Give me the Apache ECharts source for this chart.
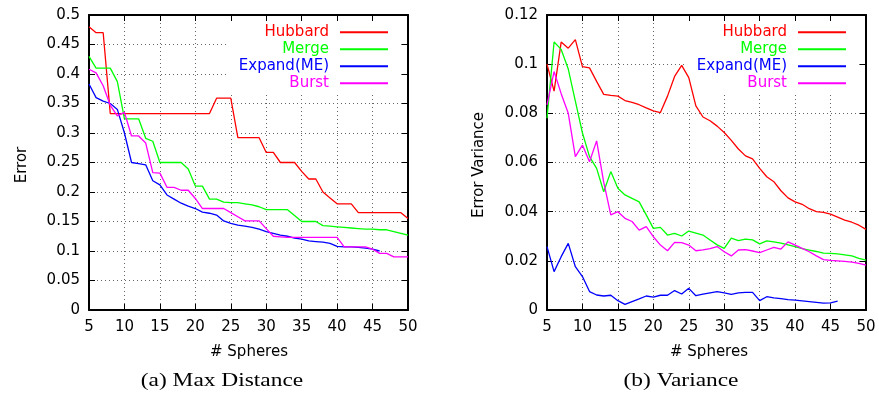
<!DOCTYPE html>
<html><head><meta charset="utf-8">
<script src="https://cdn.jsdelivr.net/npm/echarts@6/dist/echarts.min.js"></script>
<style>html,body{margin:0;padding:0;background:#fff}#c{width:879px;height:396px}</style>
</head><body><div id="c"></div>
<script>
const spheres = [5,6,7,8,9,10,11,12,13,14,15,16,17,18,19,20,21,22,23,24,25,26,27,28,29,30,31,32,33,34,35,36,37,38,39,40,41,42,43,44,45,46,47,48,49,50];
const seriesNames = ['Hubbard','Merge','Expand(ME)','Burst'];
const seriesColors = ['#ff0000','#00ff00','#0000ff','#ff00ff'];

// (a) Max Distance
const maxHubbard = [0.48,0.47,0.47,0.333,0.333,0.333,0.333,0.333,0.333,0.333,0.333,0.333,0.333,0.333,0.333,0.333,0.333,0.333,0.359,0.359,0.359,0.292,0.292,0.292,0.292,0.267,0.267,0.25,0.25,0.25,0.235,0.222,0.222,0.2,0.19,0.18,0.18,0.18,0.165,0.165,0.165,0.165,0.165,0.165,0.165,0.155];
const maxMerge = [0.43,0.41,0.41,0.41,0.387,0.324,0.324,0.324,0.291,0.286,0.25,0.25,0.25,0.25,0.239,0.21,0.21,0.188,0.188,0.183,0.182,0.182,0.18,0.178,0.175,0.17,0.17,0.17,0.17,0.16,0.15,0.15,0.15,0.143,0.142,0.141,0.14,0.139,0.138,0.137,0.137,0.136,0.136,0.133,0.13,0.127];
const maxExpand = [0.383,0.36,0.354,0.35,0.34,0.3,0.25,0.248,0.246,0.219,0.212,0.195,0.188,0.181,0.176,0.172,0.166,0.164,0.161,0.151,0.147,0.144,0.142,0.14,0.137,0.133,0.13,0.127,0.125,0.122,0.12,0.117,0.116,0.115,0.113,0.108,0.107,0.107,0.106,0.105,0.103,0.1];
const maxBurst = [0.408,0.402,0.38,0.347,0.329,0.335,0.295,0.295,0.283,0.233,0.232,0.208,0.208,0.203,0.203,0.189,0.172,0.172,0.172,0.172,0.165,0.158,0.151,0.151,0.151,0.138,0.125,0.124,0.123,0.123,0.123,0.123,0.123,0.123,0.123,0.123,0.107,0.107,0.107,0.107,0.103,0.096,0.096,0.09,0.09,0.09];

// (b) Variance
const varHubbard = [0.1,0.089,0.109,0.1065,0.11,0.099,0.0985,0.093,0.0877,0.0873,0.087,0.0852,0.0845,0.0835,0.0822,0.081,0.0803,0.087,0.095,0.0995,0.0945,0.083,0.0785,0.077,0.0748,0.0722,0.069,0.0655,0.0627,0.0615,0.0576,0.0542,0.0522,0.0485,0.0456,0.044,0.043,0.0412,0.04,0.0397,0.039,0.0378,0.0366,0.0357,0.0345,0.0328];
const varMerge = [0.078,0.109,0.106,0.098,0.085,0.072,0.0624,0.0576,0.0481,0.0563,0.0495,0.0468,0.0454,0.044,0.0387,0.0332,0.0336,0.0305,0.0312,0.0301,0.0321,0.0313,0.0305,0.0285,0.0265,0.0251,0.0292,0.0282,0.0288,0.0285,0.0269,0.0281,0.0277,0.0272,0.0265,0.0258,0.025,0.0244,0.0238,0.0231,0.023,0.0228,0.0224,0.022,0.021,0.0203];
const varExpand = [0.0258,0.0156,0.0217,0.0271,0.0176,0.0136,0.0075,0.0061,0.0057,0.006,0.0038,0.0023,0.0034,0.0045,0.0057,0.0052,0.006,0.006,0.0079,0.0065,0.0088,0.0058,0.0065,0.007,0.0075,0.007,0.0064,0.007,0.0072,0.0072,0.0038,0.0054,0.0049,0.0046,0.0042,0.004,0.0037,0.0034,0.0031,0.0028,0.0029,0.0036];
const varBurst = [0.0834,0.097,0.088,0.08,0.0624,0.0671,0.0603,0.0688,0.052,0.0387,0.04,0.0373,0.036,0.0325,0.0339,0.0298,0.0264,0.0241,0.0275,0.0274,0.0264,0.0241,0.0245,0.025,0.0258,0.0237,0.022,0.0244,0.0246,0.024,0.0233,0.0244,0.0255,0.0248,0.0277,0.0264,0.0251,0.0237,0.022,0.0205,0.0202,0.02,0.0198,0.0195,0.019,0.0183];

const FONT = '"DejaVu Sans", sans-serif';
const chart = echarts.init(document.getElementById('c'), null, {renderer: 'canvas'});

function pairs(vals) {
  const out = [];
  for (let i = 0; i < vals.length; i++) out.push([spheres[i], vals[i]]);
  return out;
}

function xAxes(grid) {
  const common = {type: 'value', gridIndex: grid, min: 5, max: 50, interval: 5,
    axisLine: {show: true, onZero: false, lineStyle: {color: '#000', width: 2}},
    axisTick: {show: true, inside: true, length: 6, lineStyle: {color: '#000', width: 1}}};
  return [
    Object.assign({}, common, {position: 'bottom',
      axisLabel: {show: true, color: '#000', fontSize: 15, fontFamily: FONT, margin: 10},
      splitLine: {show: true, showMinLine: false, showMaxLine: false, lineStyle: {color: '#666', width: 1, type: [1, 3]}}}),
    Object.assign({}, common, {position: 'top', axisLabel: {show: false}, splitLine: {show: false}})
  ];
}
function yAxes(grid, max, interval) {
  const common = {type: 'value', gridIndex: grid, min: 0, max: max, interval: interval,
    axisLine: {show: true, onZero: false, lineStyle: {color: '#000', width: 2}},
    axisTick: {show: true, inside: true, length: 6, lineStyle: {color: '#000', width: 1}}};
  return [
    Object.assign({}, common, {position: 'left',
      axisLabel: {show: true, color: '#000', fontSize: 15, fontFamily: FONT, margin: 9},
      splitLine: {show: true, showMinLine: false, showMaxLine: false, lineStyle: {color: '#666', width: 1, type: [1, 3]}}}),
    Object.assign({}, common, {position: 'right', axisLabel: {show: false}, splitLine: {show: false}})
  ];
}

function lineSeries(name, color, vals, xi, yi) {
  return {type: 'line', name: name, xAxisIndex: xi, yAxisIndex: yi, data: pairs(vals),
    symbol: 'none', showSymbol: false, lineStyle: {color: color, width: 1.3}, itemStyle: {color: color},
    animation: false, z: 3};
}

function legendFor(rightPx) {
  return {
    orient: 'vertical', align: 'right', right: rightPx, top: 22,
    padding: [2, 13, 2, 10], backgroundColor: '#fff', selectedMode: false,
    icon: 'rect', itemWidth: 48, itemHeight: 2, itemGap: 0.5,
    textStyle: {fontSize: 15, fontFamily: FONT, lineHeight: 16.5, padding: [0, 6, 0, 0]},
    data: seriesNames.map((n, i) => ({name: n, textStyle: {color: seriesColors[i]}})),
    z: 1
  };
}

const option = {
  backgroundColor: '#fff',
  animation: false,
  grid: [
    {left: 89, top: 15, width: 319, height: 295, containLabel: false},
    {left: 547, top: 15, width: 319, height: 295, containLabel: false}
  ],
  xAxis: [].concat(xAxes(0), xAxes(1)),
  yAxis: [].concat(yAxes(0, 0.5, 0.05), yAxes(1, 0.12, 0.02)),
  legend: [legendFor(478), legendFor(20)],
  series: [
    lineSeries('Hubbard', seriesColors[0], maxHubbard, 0, 0),
    lineSeries('Merge', seriesColors[1], maxMerge, 0, 0),
    lineSeries('Expand(ME)', seriesColors[2], maxExpand, 0, 0),
    lineSeries('Burst', seriesColors[3], maxBurst, 0, 0),
    lineSeries('Hubbard', seriesColors[0], varHubbard, 2, 2),
    lineSeries('Merge', seriesColors[1], varMerge, 2, 2),
    lineSeries('Expand(ME)', seriesColors[2], varExpand, 2, 2),
    lineSeries('Burst', seriesColors[3], varBurst, 2, 2)
  ],
  graphic: [
    {type: 'text', x: 249, y: 352, style: {text: '# Spheres', font: '15px ' + FONT, fill: '#000', align: 'center', verticalAlign: 'middle'}},
    {type: 'text', x: 709, y: 352, style: {text: '# Spheres', font: '15px ' + FONT, fill: '#000', align: 'center', verticalAlign: 'middle'}},
    {type: 'text', x: 22, y: 165, rotation: Math.PI / 2, style: {text: 'Error', font: '15px ' + FONT, fill: '#000', align: 'center', verticalAlign: 'middle'}},
    {type: 'text', x: 479, y: 165, rotation: Math.PI / 2, style: {text: 'Error Variance', font: '15px ' + FONT, fill: '#000', align: 'center', verticalAlign: 'middle'}},
    {type: 'text', x: 222, y: 381, scaleX: 1.3, style: {text: '(a) Max Distance', font: '18px "Liberation Serif", serif', fill: '#000', align: 'center', verticalAlign: 'middle'}},
    {type: 'text', x: 681, y: 381, scaleX: 1.3, style: {text: '(b) Variance', font: '18px "Liberation Serif", serif', fill: '#000', align: 'center', verticalAlign: 'middle'}}
  ]
};
chart.setOption(option);
</script>
</body></html>
